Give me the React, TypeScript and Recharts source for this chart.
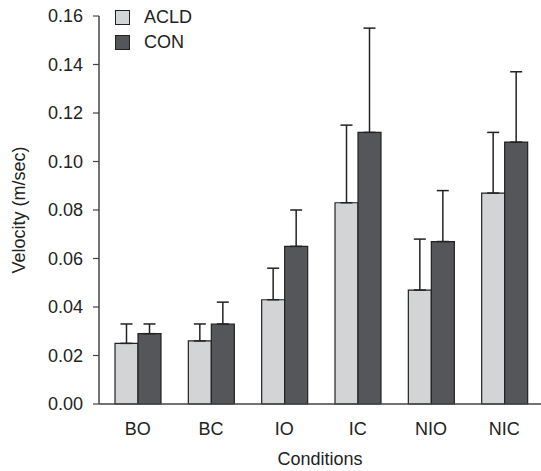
import React from "react";
import {
  BarChart,
  Bar,
  XAxis,
  YAxis,
  ErrorBar,
  Legend,
} from "recharts";

const CONDITIONS = ["BO", "BC", "IO", "IC", "NIO", "NIC"];
const ACLD = [0.025, 0.026, 0.043, 0.083, 0.047, 0.087];
const ACLD_ERR = [0.008, 0.007, 0.013, 0.032, 0.021, 0.025];
const CON = [0.029, 0.033, 0.065, 0.112, 0.067, 0.108];
const CON_ERR = [0.004, 0.009, 0.015, 0.043, 0.021, 0.029];
const Y_TICKS = [0, 0.02, 0.04, 0.06, 0.08, 0.1, 0.12, 0.14, 0.16];

const LIGHT = "#d3d4d6";
const DARK = "#55565a";
const INK = "#222222";
const FONT = "'Liberation Sans', Arial, sans-serif";
const FS = 18;

const data = CONDITIONS.map((name, i) => ({
  name,
  acld: ACLD[i],
  acldErr: [0, ACLD_ERR[i]],
  con: CON[i],
  conErr: [0, CON_ERR[i]],
}));

const LegendBox = ({ payload }: any) => (
  <div style={{ fontFamily: FONT, fontSize: FS, color: INK }}>
    {(payload || []).map((p: any) => (
      <div
        key={p.value}
        style={{ display: "flex", alignItems: "center", height: 25 }}
      >
        <span
          style={{
            width: 13,
            height: 13,
            background: p.color,
            border: `1px solid ${INK}`,
            marginRight: 14,
          }}
        />
        {p.value}
      </div>
    ))}
  </div>
);

export default function App() {
  return (
    <div style={{ position: "absolute", left: 0, top: 0 }}>
      <BarChart
        width={541}
        height={471}
        data={data}
        margin={{ top: 16, right: 0, left: 0, bottom: 0 }}
        barCategoryGap={14}
        barGap={0}
      >
        <XAxis
          dataKey="name"
          height={67}
          padding={{ left: 2, right: 0 }}
          axisLine={{ stroke: "#444", strokeWidth: 1.5 }}
          tickLine={false}
          tickSize={0}
          tickMargin={18}
          tick={{ fill: INK, fontSize: FS, fontFamily: FONT }}
          label={{
            value: "Conditions",
            position: "insideBottom",
            offset: 6,
            fill: INK,
            fontSize: FS,
            fontFamily: FONT,
          }}
        />
        <YAxis
          width={99}
          domain={[0, 0.16]}
          ticks={Y_TICKS}
          interval={0}
          tickFormatter={(v: number) => v.toFixed(2)}
          axisLine={{ stroke: "#444", strokeWidth: 1.5 }}
          tickLine={{ stroke: "#444", strokeWidth: 1.2 }}
          tickSize={6}
          tickMargin={10}
          tick={{ fill: INK, fontSize: FS, fontFamily: FONT }}
          label={{
            value: "Velocity (m/sec)",
            angle: -90,
            position: "insideLeft",
            offset: 19,
            style: { textAnchor: "middle" },
            fill: INK,
            fontSize: FS,
            fontFamily: FONT,
          }}
        />
        <Legend
          layout="horizontal"
          verticalAlign="middle"
          align="center"
          content={<LegendBox />}
          wrapperStyle={{ top: 5, left: 115, width: "auto" }}
        />
        <Bar
          dataKey="acld"
          name="ACLD"
          fill={LIGHT}
          stroke={INK}
          strokeWidth={1.2}
          isAnimationActive={false}
        >
          <ErrorBar
            dataKey="acldErr"
            direction="y"
            width={6}
            stroke={INK}
            strokeWidth={1.5}
            isAnimationActive={false}
          />
        </Bar>
        <Bar
          dataKey="con"
          name="CON"
          fill={DARK}
          stroke={INK}
          strokeWidth={1.2}
          isAnimationActive={false}
        >
          <ErrorBar
            dataKey="conErr"
            direction="y"
            width={6}
            stroke={INK}
            strokeWidth={1.5}
            isAnimationActive={false}
          />
        </Bar>
      </BarChart>
    </div>
  );
}
